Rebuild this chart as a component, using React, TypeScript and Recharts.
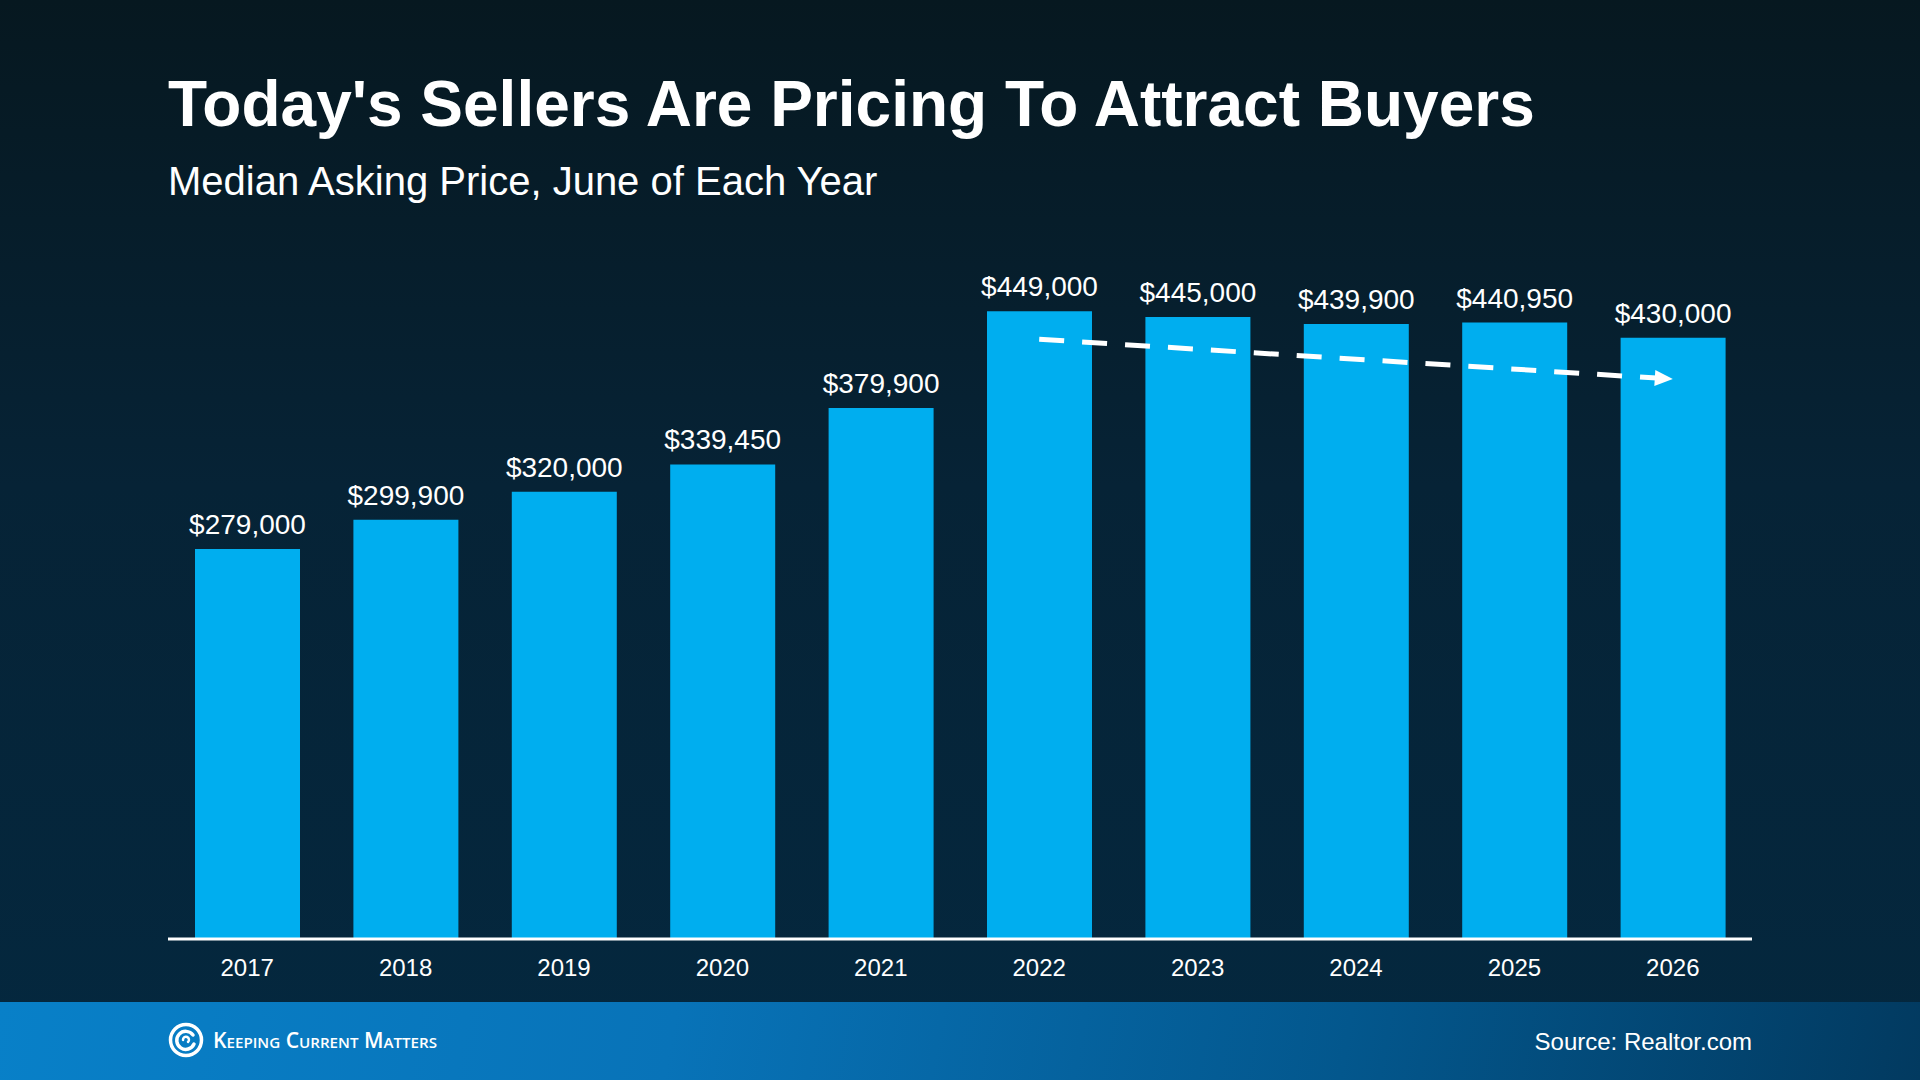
import React from "react";
import { XAxis, YAxis, LabelList, Line, Bar, ComposedChart } from "recharts";

const years = ["2017", "2018", "2019", "2020", "2021", "2022", "2023", "2024", "2025", "2026"];
const prices = [279000, 299900, 320000, 339450, 379900, 449000, 445000, 439900, 440950, 430000];
const trend: (number | null)[] = [null, null, null, null, null, 429000, null, null, null, 400500];

const data = years.map((y, i) => ({ year: y, price: prices[i], trend: trend[i] }));

const FONT = '"Liberation Sans", Arial, Helvetica, sans-serif';

const fmt = (v: any) => "$" + Number(v).toLocaleString("en-US");

const ArrowDot = (props: any) => {
  const { cx, cy, index } = props;
  if (index !== years.length - 1 || cx == null || cy == null) return <g key={"d" + index} />;
  return (
    <g key={"d" + index} transform={`rotate(3.6 ${cx} ${cy})`}>
      <polygon points={`${cx},${cy} ${cx - 18},${cy - 8} ${cx - 18},${cy + 8}`} fill="#ffffff" />
    </g>
  );
};

const Logo = () => (
  <svg width={300} height={50} style={{ position: "absolute", left: 160, top: 1015 }}>
    <g transform="translate(26,25)">
      <circle r={15.5} fill="none" stroke="#fff" strokeWidth={3.5} />
      <path d="M 7 -5 A 9 9 0 1 0 8 4" fill="none" stroke="#fff" strokeWidth={3.5} strokeLinecap="round" />
      <path d="M -3 0 A 3 3 0 1 1 2 2" fill="none" stroke="#fff" strokeWidth={2.5} strokeLinecap="round" />
    </g>
    <text
      x={53}
      y={33}
      fill="#fff"
      fontFamily={'"Open Sans", "Noto Sans", sans-serif'}
      fontWeight={600}
      fontSize={21}
      style={{ fontVariant: "small-caps" }}
      textLength={224}
      lengthAdjust="spacingAndGlyphs"
    >
      Keeping Current Matters
    </text>
  </svg>
);

export default function App() {
  return (
    <div
      style={{
        position: "absolute",
        left: 0,
        top: 0,
        width: 1920,
        height: 1080,
        overflow: "hidden",
        background: "linear-gradient(180deg, #061820 0%, #062336 45%, #04283f 100%)",
        fontFamily: FONT,
      }}
    >
      <div
        style={{
          position: "absolute",
          left: 168,
          top: 68,
          fontSize: 64,
          fontWeight: 700,
          color: "#fff",
          lineHeight: "72px",
          whiteSpace: "nowrap",
        }}
      >
        Today's Sellers Are Pricing To Attract Buyers
      </div>
      <div
        style={{
          position: "absolute",
          left: 168,
          top: 158,
          fontSize: 40,
          color: "#fff",
          lineHeight: "46px",
          whiteSpace: "nowrap",
        }}
      >
        Median Asking Price, June of Each Year
      </div>

      <div style={{ position: "absolute", left: 0, top: 0 }}>
        <ComposedChart
          width={1920}
          height={1080}
          data={data}
          margin={{ top: 240, right: 168, left: 168, bottom: 0 }}
        >
          <XAxis
            dataKey="year"
            height={141}
            axisLine={{ stroke: "#ffffff", strokeWidth: 3 }}
            tickLine={false}
            tickSize={0}
            tickMargin={20}
            tick={{ fill: "#ffffff", fontSize: 24, fontFamily: FONT }}
            interval={0}
          />
          <YAxis hide domain={[0, 500000]} width={0} />
          <Bar dataKey="price" fill="#00aeef" barSize={105} isAnimationActive={false}>
            <LabelList
              dataKey="price"
              position="top"
              offset={15}
              formatter={fmt}
              fill="#ffffff"
              fontSize={28}
              fontFamily={FONT}
            />
          </Bar>
          <Line
            dataKey="trend"
            connectNulls
            stroke="#ffffff"
            strokeWidth={5}
            strokeDasharray="25 18"
            dot={ArrowDot}
            activeDot={false}
            isAnimationActive={false}
          />
        </ComposedChart>
      </div>

      <div
        style={{
          position: "absolute",
          left: 0,
          top: 1002,
          width: 1920,
          height: 78,
          background: "linear-gradient(100deg, #0880c8 0%, #0873b8 35%, #03578d 70%, #023a60 100%)",
        }}
      />
      <Logo />
      <div
        style={{
          position: "absolute",
          right: 168,
          top: 1028,
          fontSize: 24,
          color: "#fff",
          lineHeight: "28px",
          whiteSpace: "nowrap",
        }}
      >
        Source: Realtor.com
      </div>
    </div>
  );
}
